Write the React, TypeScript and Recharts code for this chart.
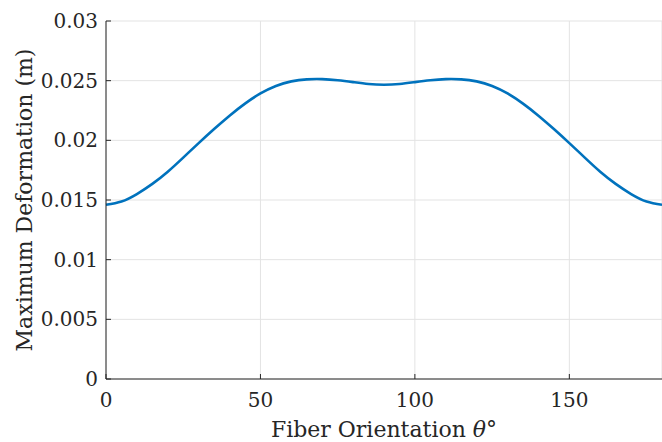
import { LineChart, Line, XAxis, YAxis, CartesianGrid, Label } from 'recharts'

// fiber angle (deg) and max deformation (m)
const THETA = [
  0, 5, 10, 15, 20, 25, 30, 35, 40, 45, 50, 55, 60, 65, 70, 75, 80, 85, 90,
  95, 100, 105, 110, 115, 120, 125, 130, 135, 140, 145, 150, 155, 160, 165, 170, 175, 180,
]
const DEFORMATION = [
  0.0146, 0.01487, 0.0155, 0.01635, 0.01737, 0.01855, 0.01977, 0.02095, 0.02207, 0.02308,
  0.02393, 0.02456, 0.02494, 0.02511, 0.02513, 0.02504, 0.02488, 0.02472, 0.02466,
  0.02472, 0.02488, 0.02504, 0.02513, 0.02511, 0.02494, 0.02456, 0.02393, 0.02308,
  0.02207, 0.02095, 0.01977, 0.01855, 0.01737, 0.01635, 0.0155, 0.01487, 0.0146,
]
const X_TICKS = [0, 50, 100, 150]
const Y_TICKS = [0, 0.005, 0.01, 0.015, 0.02, 0.025, 0.03]

const data = THETA.map((t, i) => ({ theta: t, def: DEFORMATION[i] }))

const FONT = '"DejaVu Serif", serif'
const AXIS = '#262626'
const BLUE = '#0072BD'

export default function App() {
  return (
    <div
      style={{ position: 'fixed', left: 0, top: 0, width: 662, height: 442, background: '#fff', fontFamily: FONT }}
    >
      <LineChart width={662} height={442} data={data} margin={{ top: 21, right: 0, bottom: 0, left: 0 }}>
        <CartesianGrid stroke="#e3e3e3" strokeWidth={1} />
        <XAxis
          dataKey="theta"
          type="number"
          domain={[0, 180]}
          ticks={X_TICKS}
          height={63}
          axisLine={{ stroke: AXIS, strokeWidth: 1 }}
          tickLine={{ stroke: AXIS }}
          tickSize={-5}
          tickMargin={19}
          tick={{ fill: '#262626', fontSize: 20, fontFamily: FONT }}
        >
          <Label
            content={({ viewBox }: any) => (
              <text
                x={viewBox.x + viewBox.width / 2}
                y={viewBox.y + viewBox.height - 5}
                textAnchor="middle"
                fontFamily={FONT}
                fontSize={22}
                fill="#262626"
              >
                Fiber Orientation <tspan fontStyle="italic">θ</tspan>°
              </text>
            )}
          />
        </XAxis>
        <XAxis
          xAxisId="top"
          orientation="top"
          dataKey="theta"
          type="number"
          domain={[0, 180]}
          ticks={X_TICKS}
          height={0}
          axisLine={{ stroke: AXIS, strokeWidth: 1 }}
          tickLine={{ stroke: AXIS }}
          tickSize={-5}
          tick={false}
        />
        <YAxis
          domain={[0, 0.03]}
          ticks={Y_TICKS}
          width={106}
          axisLine={{ stroke: AXIS, strokeWidth: 1 }}
          tickLine={{ stroke: AXIS }}
          tickSize={-5}
          tickMargin={13}
          tick={{ fill: '#262626', fontSize: 20, fontFamily: FONT }}
        >
          <Label
            content={({ viewBox }: any) => (
              <text
                x={24}
                y={viewBox.y + viewBox.height / 2}
                transform={`rotate(-90, 24, ${viewBox.y + viewBox.height / 2})`}
                textAnchor="middle"
                dominantBaseline="central"
                fontFamily={FONT}
                fontSize={22}
                fill="#262626"
              >
                Maximum Deformation (m)
              </text>
            )}
          />
        </YAxis>
        <YAxis
          yAxisId="right"
          orientation="right"
          domain={[0, 0.03]}
          ticks={Y_TICKS}
          width={0}
          axisLine={{ stroke: AXIS, strokeWidth: 1 }}
          tickLine={{ stroke: AXIS }}
          tickSize={-5}
          tick={false}
        />
        <Line
          type="natural"
          dataKey="def"
          stroke={BLUE}
          strokeWidth={2.6}
          dot={false}
          isAnimationActive={false}
        />
      </LineChart>
    </div>
  )
}
